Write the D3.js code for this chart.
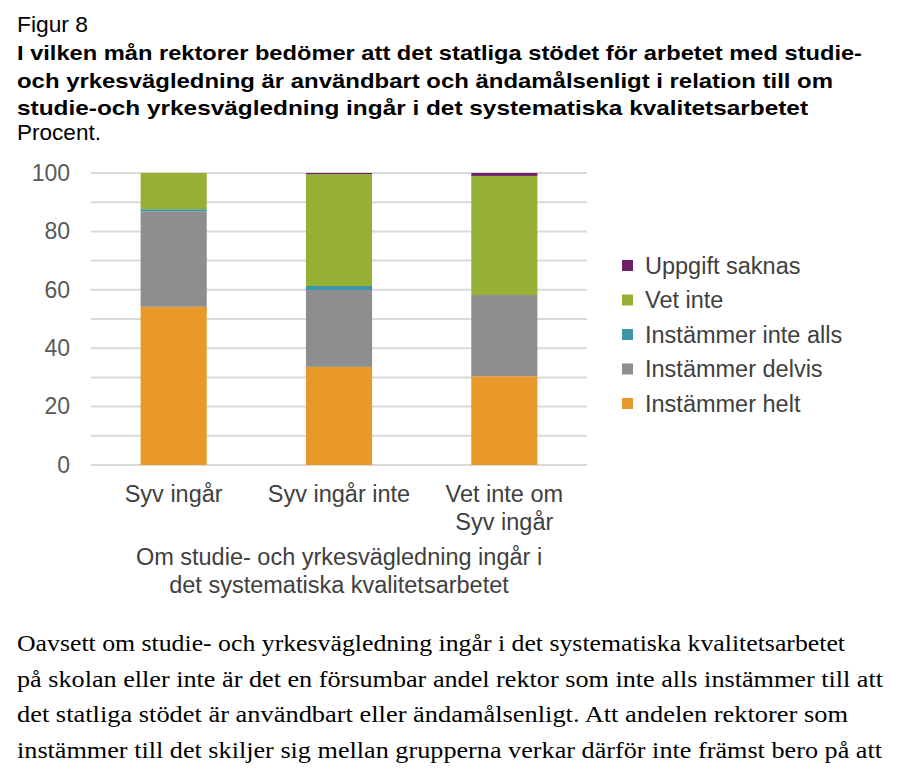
<!DOCTYPE html>
<html>
<head>
<meta charset="utf-8">
<script src="https://cdn.jsdelivr.net/npm/d3@7"></script>
<style>
  body { margin: 0; background: #fff; }
  svg { display: block; }
</style>
</head>
<body>
<svg id="chart" width="901" height="770"></svg>
<script>
const categories = [["Syv ingår"], ["Syv ingår inte"], ["Vet inte om", "Syv ingår"]];
const seriesNames = ["Instämmer helt", "Instämmer delvis", "Instämmer inte alls", "Vet inte", "Uppgift saknas"];
const instammerHelt = [54.2, 33.6, 30.4];
const instammerDelvis = [32.7, 26.3, 27.8];
const instammerInteAlls = [0.7, 1.4, 0.0];
const vetInte = [12.4, 38.3, 40.8];
const uppgiftSaknas = [0.0, 0.4, 1.0];
const seriesColors = ["#E8992A", "#8E8E90", "#3E94A8", "#95B034", "#6E2168"];
const yTicks = [0, 20, 40, 60, 80, 100];
const gridTicks = [0, 10, 20, 30, 40, 50, 60, 70, 80, 90, 100];

const titleLines = [
  "I vilken mån rektorer bedömer att det statliga stödet för arbetet med studie-",
  "och yrkesvägledning är användbart och ändamålsenligt i relation till om",
  "studie-och yrkesvägledning ingår i det systematiska kvalitetsarbetet"
];
const bodyLines = [
  "Oavsett om studie- och yrkesvägledning ingår i det systematiska kvalitetsarbetet",
  "på skolan eller inte är det en försumbar andel rektor som inte alls instämmer till att",
  "det statliga stödet är användbart eller ändamålsenligt. Att andelen rektorer som",
  "instämmer till det skiljer sig mellan grupperna verkar därför inte främst bero på att"
];
const axisTitle = ["Om studie- och yrkesvägledning ingår i", "det systematiska kvalitetsarbetet"];

const seriesData = [instammerHelt, instammerDelvis, instammerInteAlls, vetInte, uppgiftSaknas];
const rows = categories.map((c, i) => {
  const r = { key: c.join(" ") };
  seriesNames.forEach((s, j) => r[s] = seriesData[j][i]);
  return r;
});

const svg = d3.select("#chart");
const sans = "'Liberation Sans', Arial, sans-serif";
const fs = 23.5;

// Header
svg.append("text").attr("x", 17).attr("y", 32).attr("font-family", sans)
  .attr("font-size", 22).attr("fill", "#000")
  .attr("textLength", 71).attr("lengthAdjust", "spacingAndGlyphs").text("Figur 8");
const titleEnds = [862, 833, 808];
titleLines.forEach((t, i) => {
  svg.append("text").attr("x", 17).attr("y", 60 + i * 27.5).attr("font-family", sans)
    .attr("font-size", 21).attr("font-weight", "bold").attr("fill", "#000")
    .attr("textLength", titleEnds[i] - 17).attr("lengthAdjust", "spacingAndGlyphs")
    .text(t);
});
svg.append("text").attr("x", 17).attr("y", 140).attr("font-family", sans)
  .attr("font-size", 22).attr("fill", "#000")
  .attr("textLength", 84).attr("lengthAdjust", "spacingAndGlyphs").text("Procent.");

// Chart
const x = d3.scaleBand().domain(rows.map(d => d.key)).range([91, 587]).paddingInner(0.6).paddingOuter(0.3);
const y = d3.scaleLinear().domain([0, 100]).range([465, 173]);

svg.append("g").selectAll("line").data(gridTicks).join("line")
  .attr("x1", 91).attr("x2", 587)
  .attr("y1", d => y(d)).attr("y2", d => y(d))
  .attr("stroke", "#D9D9D9").attr("stroke-width", 2);

const yAxis = d3.axisLeft(y).tickValues(yTicks).tickSize(0).tickPadding(21);
const yg = svg.append("g").attr("transform", "translate(91,0)").call(yAxis);
yg.select(".domain").remove();
yg.selectAll("text").attr("font-family", sans).attr("font-size", 23).attr("fill", "#595959");

const stack = d3.stack().keys(seriesNames)(rows);
svg.append("g").selectAll("g").data(stack).join("g")
  .attr("fill", (d, i) => seriesColors[i])
  .selectAll("rect").data(d => d).join("rect")
  .attr("x", d => x(d.data.key))
  .attr("width", x.bandwidth())
  .attr("y", d => y(d[1]))
  .attr("height", d => Math.max(0, y(d[0]) - y(d[1])));

// X labels
categories.forEach((c, i) => {
  const cx = x(rows[i].key) + x.bandwidth() / 2;
  c.forEach((line, k) => {
    svg.append("text").attr("x", cx).attr("y", 502 + k * 27.5).attr("text-anchor", "middle")
      .attr("font-family", sans).attr("font-size", fs).attr("fill", "#404040").text(line);
  });
});
axisTitle.forEach((t, k) => {
  svg.append("text").attr("x", 339).attr("y", 565 + k * 28).attr("text-anchor", "middle")
    .attr("font-family", sans).attr("font-size", fs).attr("fill", "#404040").text(t);
});

// Legend (reverse order)
const legendOrder = seriesNames.map((s, i) => ({ name: s, color: seriesColors[i] })).reverse();
const lg = svg.append("g").selectAll("g").data(legendOrder).join("g")
  .attr("transform", (d, i) => `translate(622, ${265 + i * 34.5})`);
lg.append("rect").attr("x", 0).attr("y", -5).attr("width", 11).attr("height", 11).attr("fill", d => d.color);
lg.append("text").attr("x", 23).attr("y", 8.5).attr("font-family", sans).attr("font-size", fs)
  .attr("fill", "#404040").text(d => d.name);

// Body text
const bodyEnds = [845, 883, 848, 882];
bodyLines.forEach((t, i) => {
  svg.append("text").attr("x", 17).attr("y", 651 + i * 35.5)
    .attr("font-family", "'Liberation Serif', 'DejaVu Serif', serif")
    .attr("font-size", 22.5).attr("fill", "#000")
    .attr("textLength", bodyEnds[i] - 17).attr("lengthAdjust", "spacingAndGlyphs")
    .text(t);
});
</script>
</body>
</html>
